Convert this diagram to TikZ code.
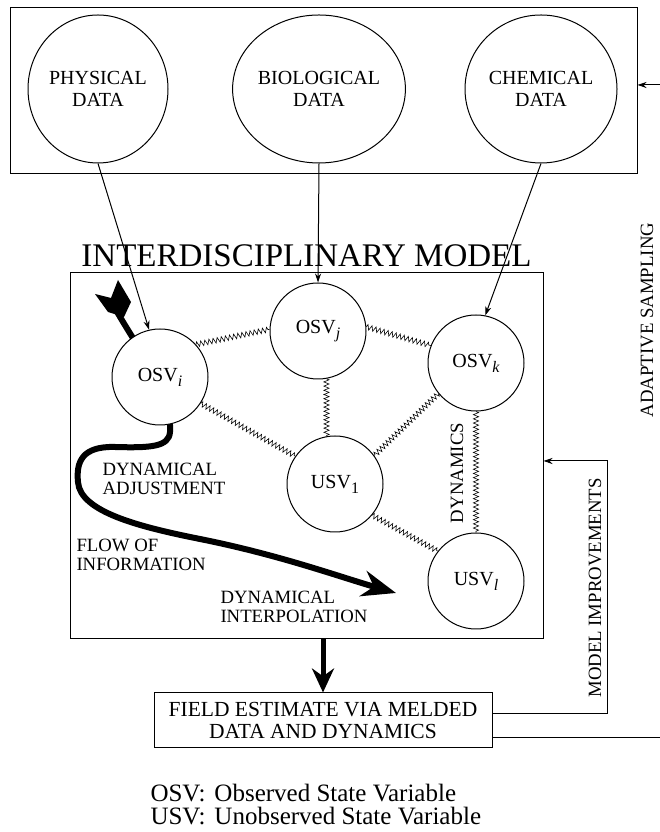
\documentclass[tikz,border=0pt]{standalone}
\usepackage{fontspec}
\setmainfont{Liberation Serif}
\usetikzlibrary{arrows.meta,positioning,shapes.geometric,decorations.pathmorphing,backgrounds}
\newcommand{\svsub}[1]{\raisebox{-5pt}{\fontsize{16}{16}\selectfont #1}}

\begin{document}
\begin{tikzpicture}[x=1pt, y=1pt, line width=1pt,
  every node/.style={font=\fontsize{20}{22}\selectfont},
  data/.style={ellipse,draw,fill=white,minimum width=140pt,minimum height=148pt,inner sep=0pt,align=center},
  sv/.style={circle,draw,fill=white,minimum size=96pt,inner sep=0pt},
  lbl/.style={font=\fontsize{18.75}{19}\selectfont,align=left,inner sep=0pt},
  spring/.style={line width=0.6pt,decorate,decoration={zigzag,amplitude=2.6pt,segment length=4.2pt}},
  arr/.style={-{Stealth[length=9pt,width=6pt]}},
  flow/.style={line width=6pt,-{Stealth[length=34pt,width=26pt]}}]
\useasboundingbox (0,0) rectangle (660,832);

% data sources
\node[draw,minimum width=627pt,minimum height=166pt,inner sep=0pt] (topbox) at (323.5,741) {};
\node[data] (phys) at (98,743) {PHYSICAL\\DATA};
\node[data] (bio) at (319,743) {BIOLOGICAL\\DATA};
\node[data,minimum width=152pt] (chem) at (541,743) {CHEMICAL\\DATA};

% model
\node[draw,minimum width=473pt,minimum height=366pt,inner sep=0pt] (model) at (306.5,376) {};
\node[font=\fontsize{33}{36}\selectfont,anchor=base,inner sep=0pt] (title) at ([yshift=6pt]model.north) {INTERDISCIPLINARY MODEL};
\node[sv] (osvi) at (160,455) {OSV\svsub{\itshape i}};
\node[sv] (osvj) at (318,501) {OSV\svsub{\itshape j}};
\node[sv] (osvk) at (476,469) {OSV\svsub{\itshape k}};
\node[sv] (usv1) at (335,348) {USV\svsub{1}};
\node[sv] (usvl) at (476,251) {USV\svsub{\itshape l}};

\draw[spring] (osvi.42) -- (osvj.178);
\draw[spring] (osvj.5) -- (osvk.159);
\draw[spring] (osvi.-33) -- (usv1.145);
\draw[spring] (osvj.-80) -- (usv1.100);
\draw[spring] (osvk.219) -- (usv1.36);
\draw[spring] (usv1.-40) -- (usvl.142);
\draw[spring] (osvk.south) -- (usvl.north);
\node[lbl,rotate=90] (dyn) at (457,359) {DYNAMICS};

\node[lbl,anchor=west] (adj) at (102,353) {DYNAMICAL\\ADJUSTMENT};
\node[lbl,anchor=west] (info) at (76,277) {FLOW OF\\INFORMATION};
\node[lbl,anchor=west] (interp) at (220,225) {DYNAMICAL\\INTERPOLATION};

% flow of information
\coordinate (flowtail) at (116,522);
\coordinate (flowtip) at (396,239);
\begin{scope}[on background layer]
\fill (95,538) -- (111,534) -- (118,552) -- (131,530) -- (124,515) -- (108,520) -- cycle;
\draw[flow] (flowtail) .. controls (140,480) and (172,440) .. (170,400)
  .. controls (169,385) and (150,384) .. (115,385)
  .. controls (82,386) and (76,370) .. (78,350)
  .. controls (80,320) and (140,305) .. (200,293)
  .. controls (280,277) and (340,255) .. (flowtip);
\end{scope}

\draw[arr] (phys.south) -- (osvi.103);
\draw[arr] (bio.south) -- (osvj.north);
\draw[arr] (chem.south) -- (osvk.79);

% output and feedback
\node[draw,minimum width=338pt,minimum height=55pt,inner sep=0pt,align=center,font=\fontsize{21.5}{22}\selectfont] (field) at (323,111.5) {FIELD ESTIMATE VIA MELDED\\DATA AND DYNAMICS};
\draw[line width=5pt,-{Stealth[length=24pt,width=22pt]}] (field.north |- model.south) -- (field.north);

\coordinate (mibot) at (607,118);
\coordinate (mitop) at (607,371);
\draw[arr] (field.east |- mibot) -- (mibot) -- (mitop) -- (model.east |- mitop);
\node[lbl,rotate=90] (mimp) at (595,244) {MODEL IMPROVEMENTS};

\coordinate (asbot) at (660,94);
\coordinate (astop) at (660,747);
\draw (field.east |- asbot) -- (asbot);
\draw[arr] (astop) -- (topbox.east |- astop);
\node[lbl,rotate=90] (adapt) at (647,512) {ADAPTIVE SAMPLING};

% legend
\node[font=\fontsize{25}{23}\selectfont,align=left,anchor=north west,inner sep=0pt] (legend) at (150,48)
  {\makebox[64pt][l]{OSV:}Observed State Variable\\\makebox[64pt][l]{USV:}Unobserved State Variable};
\end{tikzpicture}
\end{document}
